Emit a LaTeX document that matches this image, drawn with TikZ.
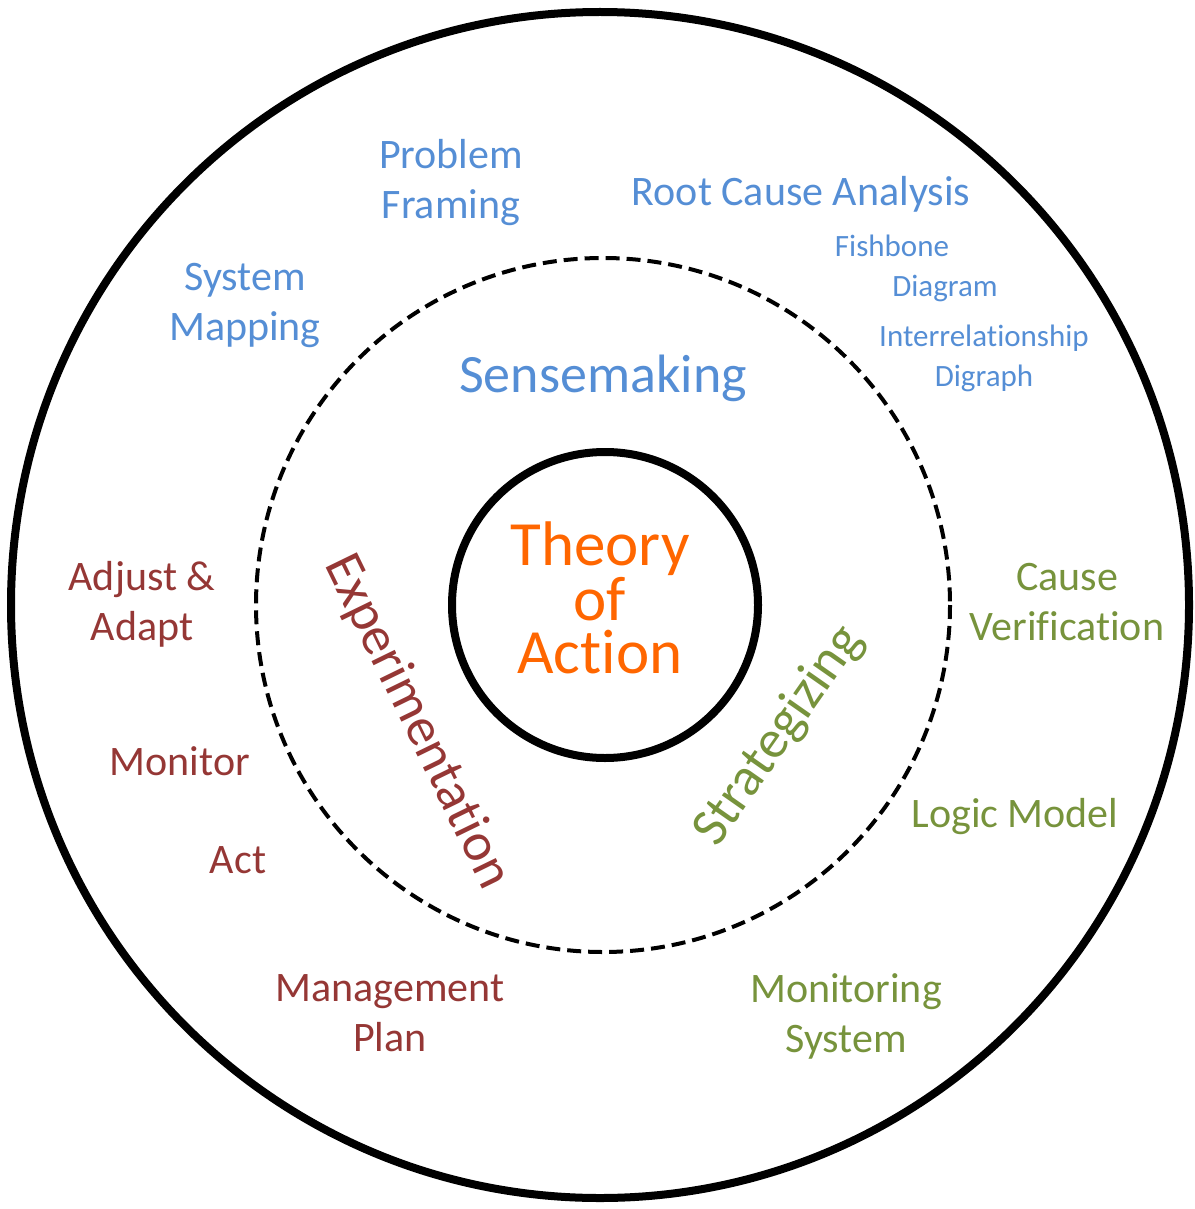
\documentclass[tikz,border=0pt]{standalone}
\usepackage{fontspec}
\setmainfont{Carlito}[Ligatures={CommonOff,ContextualOff}]
\definecolor{cblue}{HTML}{558ED5}
\definecolor{cred}{HTML}{953735}
\definecolor{cgreen}{HTML}{77933C}
\definecolor{corange}{HTML}{FF6600}
\newcommand{\nb}{\kern0pt{}}
\begin{document}
\begin{tikzpicture}[x=1pt,y=-1pt,
  outer/.style={font=\fontsize{42}{50}\selectfont, align=center, inner sep=0pt, anchor=base},
  small/.style={font=\fontsize{31}{40}\selectfont, align=center, inner sep=0pt, anchor=base},
  big/.style={font=\fontsize{54}{60}\selectfont, inner sep=0pt}]
\useasboundingbox (0,0) rectangle (1194,1209);
\draw[line width=8pt] (600,605) ellipse [x radius=589, y radius=593];
\draw[line width=4pt, dash pattern=on 14pt off 7pt] (603,605) circle [radius=347];
\node[draw, line width=8pt, circle, minimum size=306pt, inner sep=0pt] (core) at (605,605) {};
\node[font=\fontsize{63}{53}\selectfont, text=corange, align=center, inner sep=0pt, anchor=base] (toa) at (600,673) {Theory\\of\\Act\nb ion};
% Sensemaking
\node[big, text=cblue, anchor=base] (sense) at (603,392) {Sensemaking};
\node[outer, text=cblue] (prob) at (451,218) {Problem\\Framing};
\node[outer, text=cblue] (sys) at (245,340) {System\\Mapping};
\node[outer, text=cblue] (rca) at (801,205) {Root Cause Analysis};
\node[small, text=cblue] (fish) at (892,256) {Fishbone};
\node[small, text=cblue] (diag) at (945,296) {Diagram};
\node[small, text=cblue] (inter) at (984,386) {Interrelat\nb ionship\\Digraph};
% Experimentation
\node[big, text=cred, rotate=-64] (exp) at (417,722) {Experimentat\nb ion};
\node[outer, text=cred] (adj) at (142,640) {Adjust \&\\Adapt};
\node[outer, text=cred] (mon) at (180,775) {Monitor};
\node[outer, text=cred] (act) at (238,873) {Act};
\node[outer, text=cred] (mgmt) at (390,1051) {Management\\Plan};
% Strategizing
\node[big, text=cgreen, rotate=55] (strat) at (779,736) {Strategizing};
\node[outer, text=cgreen] (cause) at (1067,640) {Cause\\Verif\nb icat\nb ion};
\node[outer, text=cgreen] (logic) at (1015,827) {Logic Model};
\node[outer, text=cgreen] (msys) at (846,1052) {Monitoring\\System};
\end{tikzpicture}
\end{document}
